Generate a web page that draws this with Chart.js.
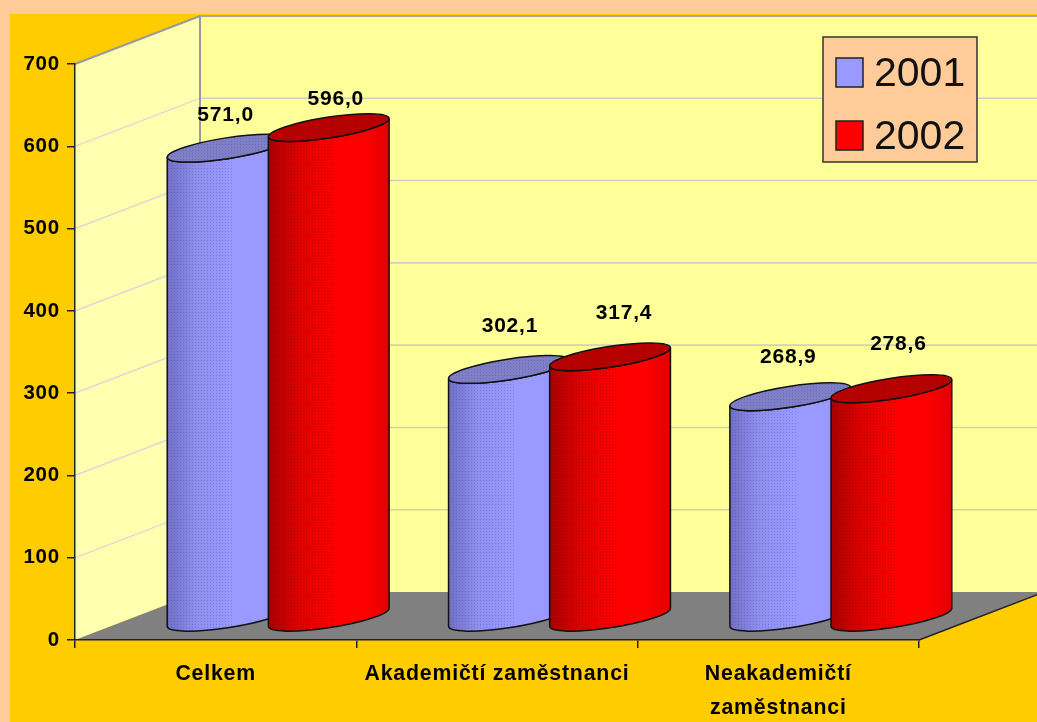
<!DOCTYPE html>
<html lang="cs">
<head>
<meta charset="utf-8">
<title>Celkem 2001 / 2002</title>
<script src="https://cdn.jsdelivr.net/npm/chart.js@4"></script>
<style>
  html, body { margin: 0; padding: 0; background: #ffcc99; }
  canvas { display: block; }
</style>
</head>
<body>
<canvas id="chart-cyl" width="1037" height="722"></canvas>
<script>
'use strict';

var categories = ['Celkem', 'Akademičtí zaměstnanci', ['Neakademičtí', 'zaměstnanci']];
var values2001 = [571.0, 302.1, 268.9];
var values2002 = [596.0, 317.4, 278.6];
var yTicks = [0, 100, 200, 300, 400, 500, 600, 700];

// depth of the fake 3d box, in px
var DX = 125;
var DY = -48;
var LIFT = -22; // cylinders stand a bit forward of the middle of the floor
var TILT = Math.atan2(-19, 122);
var FONT = '"Liberation Sans", Arial, sans-serif';

// value labels were hand placed in the original: [dx, dy] from the cylinder top
var labelNudge = [
  [[-2, -33], [1, -43], [-2, -40]],
  [[7, -28], [14, -44], [7, -45]]
];

var looks = [
  { stops: ['#6f6fc4', '#8f8fef', '#9999ff', '#9999ff', '#8a8ae6'], cap: '#7f7fc8', dot: 'rgba(60,60,140,0.28)' },
  { stops: ['#a80000', '#dd0000', '#ff0000', '#ff0000', '#e00000'], cap: '#b80000', dot: 'rgba(90,0,0,0.30)' }
];

// the old gif look: a small grid of dark dots
function dotPattern(ctx, color) {
  var c = document.createElement('canvas');
  c.width = 3;
  c.height = 3;
  var g = c.getContext('2d');
  g.fillStyle = color;
  g.fillRect(0, 0, 1, 1);
  return ctx.createPattern(c, 'repeat');
}

function drawBox(chart) {
  var ctx = chart.ctx;
  var area = chart.chartArea;
  var y = chart.scales.y;
  var l = area.left, b = area.bottom, r = area.right, t = area.top;

  ctx.save();
  // side wall
  ctx.fillStyle = '#ffffb0';
  ctx.beginPath();
  ctx.moveTo(l, t); ctx.lineTo(l + DX, t + DY); ctx.lineTo(l + DX, b + DY); ctx.lineTo(l, b);
  ctx.closePath(); ctx.fill();
  // back wall
  ctx.fillStyle = '#ffff99';
  ctx.fillRect(l + DX, t + DY, r - l, b - t);
  // floor
  ctx.fillStyle = '#808080';
  ctx.beginPath();
  ctx.moveTo(l, b); ctx.lineTo(l + DX, b + DY); ctx.lineTo(r + DX, b + DY); ctx.lineTo(r, b);
  ctx.closePath(); ctx.fill();

  // grid lines run along the side wall and then across the back
  yTicks.forEach(function(v) {
    if (v === 0) return;
    var py = y.getPixelForValue(v);
    ctx.strokeStyle = '#d4d4dc';
    ctx.lineWidth = 1.2;
    ctx.beginPath(); ctx.moveTo(l, py); ctx.lineTo(l + DX, py + DY); ctx.stroke();
    ctx.strokeStyle = '#d0d0bc';
    ctx.lineWidth = 1.6;
    ctx.beginPath(); ctx.moveTo(l + DX, py + DY); ctx.lineTo(r + DX, py + DY); ctx.stroke();
  });
  ctx.strokeStyle = '#9a9a9a';
  ctx.lineWidth = 2;
  ctx.beginPath(); ctx.moveTo(l, t); ctx.lineTo(l + DX, t + DY); ctx.lineTo(l + DX, b + DY); ctx.stroke();
  ctx.strokeStyle = '#a8a8a0';
  ctx.beginPath(); ctx.moveTo(l + DX, t + DY); ctx.lineTo(r + DX, t + DY); ctx.stroke();
  // floor right edge
  ctx.strokeStyle = '#222';
  ctx.lineWidth = 1.5;
  ctx.beginPath(); ctx.moveTo(r, b); ctx.lineTo(r + DX, b + DY); ctx.stroke();
  ctx.restore();
}

function drawCylinder(ctx, bar, look) {
  var a = bar.width / 2;
  var k = 10.4;
  var cx = bar.x + DX / 2;
  var topY = bar.y + LIFT;
  var baseY = bar.base + LIFT;
  var t0 = Math.atan2(-k * Math.sin(TILT), a * Math.cos(TILT));
  var dots = dotPattern(ctx, look.dot);

  var grad = ctx.createLinearGradient(cx - a, 0, cx + a, 0);
  look.stops.forEach(function(c, i) { grad.addColorStop([0, 0.25, 0.55, 0.8, 1][i], c); });

  function bodyPath() {
    ctx.beginPath();
    ctx.ellipse(cx, baseY, a, k, TILT, t0, t0 + Math.PI);
    ctx.ellipse(cx, topY, a, k, TILT, t0 + Math.PI, t0, true);
    ctx.closePath();
  }

  ctx.save();
  ctx.strokeStyle = '#111';
  ctx.lineWidth = 1.5;
  ctx.fillStyle = grad;
  bodyPath();
  ctx.fill();
  // dither on the shaded left part of the body
  ctx.save();
  bodyPath();
  ctx.clip();
  ctx.fillStyle = dots;
  ctx.fillRect(cx - a, topY - 30, a * 1.1, baseY - topY + 60);
  ctx.restore();
  bodyPath();
  ctx.stroke();

  ctx.beginPath();
  ctx.ellipse(cx, topY, a, k, TILT, 0, Math.PI * 2);
  ctx.fillStyle = look.cap;
  ctx.fill();
  ctx.fillStyle = dots;
  ctx.fill();
  ctx.stroke();
  ctx.restore();
}

var cylinders = {
  id: 'cylinders',
  beforeDraw: function(chart) {
    var ctx = chart.ctx;
    ctx.fillStyle = '#ffcc99';
    ctx.fillRect(0, 0, chart.width, chart.height);
    ctx.fillStyle = '#ffcc00';
    ctx.fillRect(10, 14, chart.width - 10, chart.height - 14);
    ctx.letterSpacing = '0.8px';
    drawBox(chart);
  },
  // the plain rectangles are replaced by the cylinders below
  beforeDatasetDraw: function() { return false; },
  afterDatasetsDraw: function(chart) {
    var ctx = chart.ctx;
    categories.forEach(function(c, j) {
      chart.data.datasets.forEach(function(ds, i) {
        drawCylinder(ctx, chart.getDatasetMeta(i).data[j], looks[i]);
      });
    });

    // value labels
    ctx.save();
    ctx.fillStyle = '#000';
    ctx.font = 'bold 21px ' + FONT;
    ctx.textAlign = 'center';
    ctx.textBaseline = 'middle';
    chart.data.datasets.forEach(function(ds, i) {
      chart.getDatasetMeta(i).data.forEach(function(bar, j) {
        var text = ds.data[j].toFixed(1).replace('.', ',');
        var n = labelNudge[i][j];
        ctx.fillText(text, bar.x + DX / 2 + n[0], bar.y + LIFT + n[1]);
      });
    });
    ctx.restore();

    // legend box
    ctx.save();
    ctx.letterSpacing = '0px';
    ctx.fillStyle = '#ffcc99';
    ctx.strokeStyle = '#333';
    ctx.lineWidth = 1.5;
    ctx.fillRect(823, 37, 154, 125);
    ctx.strokeRect(823, 37, 154, 125);
    chart.data.datasets.forEach(function(ds, i) {
      var rowY = 58 + i * 63;
      ctx.fillStyle = ds.backgroundColor;
      ctx.strokeStyle = '#222';
      ctx.fillRect(836, rowY, 27, 29);
      ctx.strokeRect(836, rowY, 27, 29);
      ctx.fillStyle = '#111';
      ctx.font = '41px ' + FONT;
      ctx.textAlign = 'left';
      ctx.textBaseline = 'middle';
      ctx.fillText(ds.label, 874, rowY + 17);
    });
    ctx.restore();
  }
};

var ctx = document.getElementById('chart-cyl').getContext('2d');
var chart1 = new Chart(ctx, {
  type: 'bar',
  data: {
    labels: categories,
    datasets: [
      { label: '2001', data: values2001, backgroundColor: '#9999ff' },
      { label: '2002', data: values2002, backgroundColor: '#ff0000' }
    ]
  },
  options: {
    responsive: false,
    animation: false,
    barPercentage: 1.208,
    categoryPercentage: 0.719,
    layout: { padding: { top: 64, right: 118, left: 0, bottom: 0 } },
    plugins: { legend: { display: false }, tooltip: { enabled: false } },
    scales: {
      x: {
        afterFit: function(s) { s.height = 82; },
        grid: { drawOnChartArea: false, tickLength: 8, color: '#222', lineWidth: 1.5 },
        border: { color: '#222', width: 1.5 },
        ticks: {
          autoSkip: false,
          maxRotation: 0,
          padding: 9,
          color: '#000',
          font: { family: FONT, size: 21.3, weight: 'bold', lineHeight: 1.6 }
        }
      },
      y: {
        min: 0,
        max: 700,
        afterFit: function(s) { s.width = 75; },
        afterBuildTicks: function(s) { s.ticks = yTicks.map(function(v) { return { value: v }; }); },
        grid: { drawOnChartArea: false, tickLength: 8, color: '#222', lineWidth: 1.5 },
        border: { color: '#222', width: 1.5 },
        ticks: {
          padding: 7,
          color: '#000',
          font: { family: FONT, size: 20.5, weight: 'bold' }
        }
      }
    }
  },
  plugins: [cylinders]
});
</script>
</body>
</html>
